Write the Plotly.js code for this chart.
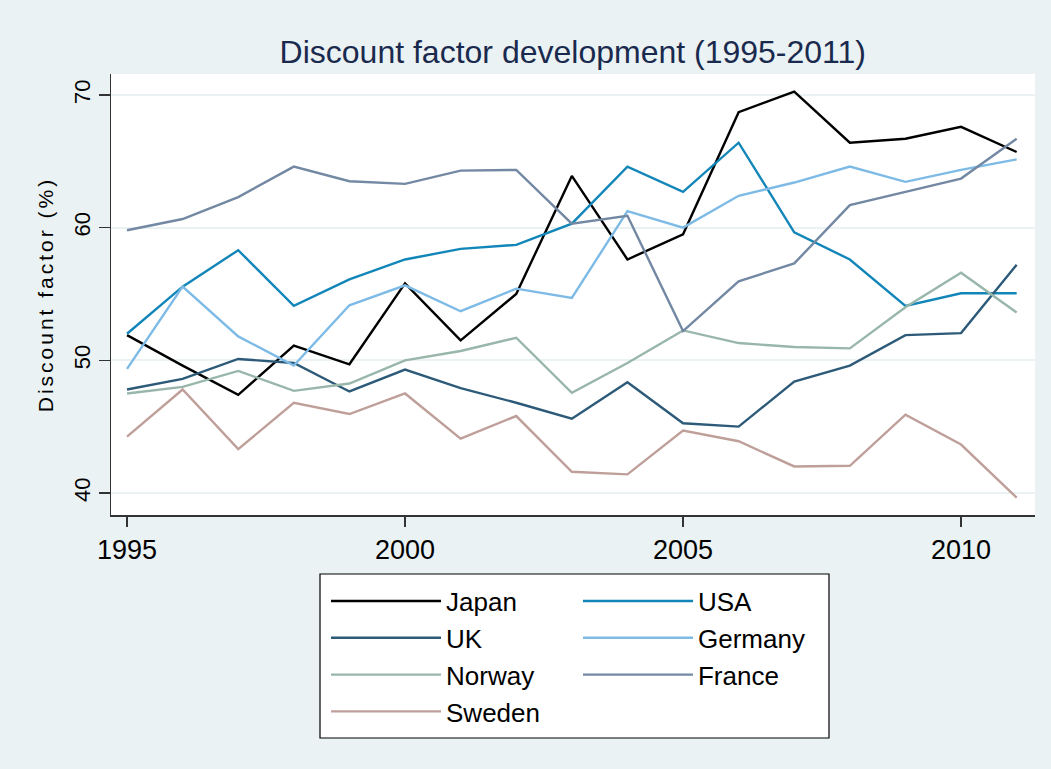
<!DOCTYPE html>
<html>
<head>
<meta charset="utf-8">
<script src="https://cdn.plot.ly/plotly-3.0.1.min.js"></script>
<style>html,body{margin:0;padding:0;background:#eaf2f3;}#chart{width:1051px;height:769px;}</style>
</head>
<body>
<div id="chart"></div>
<script>
const years = [1995,1996,1997,1998,1999,2000,2001,2002,2003,2004,2005,2006,2007,2008,2009,2010,2011];
const japan   = [51.9,49.6,47.4,51.1,49.7,55.8,51.5,55.0,63.9,57.6,59.5,68.7,70.25,66.4,66.7,67.6,65.7];
const usa     = [52.0,55.55,58.3,54.1,56.1,57.6,58.4,58.7,60.3,64.6,62.7,66.4,59.65,57.6,54.1,55.05,55.05];
const uk      = [47.8,48.6,50.1,49.8,47.65,49.3,47.9,46.8,45.6,48.35,45.25,45.0,48.4,49.6,51.9,52.05,57.2];
const germany = [49.35,55.55,51.8,49.6,54.15,55.65,53.7,55.4,54.7,61.25,60.0,62.4,63.4,64.6,63.45,64.35,65.15];
const norway  = [47.5,48.0,49.2,47.7,48.25,50.0,50.7,51.7,47.55,49.8,52.25,51.3,51.0,50.9,54.0,56.6,53.6];
const france  = [59.8,60.65,62.3,64.6,63.5,63.3,64.3,64.35,60.3,60.9,52.2,55.95,57.3,61.7,62.7,63.7,66.7];
const sweden  = [44.25,47.8,43.3,46.8,45.95,47.5,44.1,45.8,41.6,41.4,44.7,43.9,42.0,42.05,45.9,43.65,39.65];
const xTicks = [1995,2000,2005,2010];
const yTicks = [40,50,60,70];

const series = [
  {name:'Japan',   y:japan,   color:'#000000', legend:'legend'},
  {name:'USA',     y:usa,     color:'#1286b9', legend:'legend2'},
  {name:'UK',      y:uk,      color:'#2c5a78', legend:'legend'},
  {name:'Germany', y:germany, color:'#7dbbe6', legend:'legend2'},
  {name:'Norway',  y:norway,  color:'#98b6a9', legend:'legend'},
  {name:'France',  y:france,  color:'#7388a3', legend:'legend2'},
  {name:'Sweden',  y:sweden,  color:'#bf9f99', legend:'legend'}
];
const traces = series.map(s => ({
  x: years, y: s.y, name: s.name, type:'scatter', mode:'lines',
  line:{color:s.color, width:2.4}, legend:s.legend
}));

const font = 'Liberation Sans, Arial, sans-serif';
const legendCommon = {
  orientation:'v', bgcolor:'rgba(0,0,0,0)', borderwidth:0,
  font:{family:font, size:26, color:'#000'}, itemwidth:110,
  tracegroupgap:0, xanchor:'left', yanchor:'top', itemclick:false
};
const layout = {
  width:1051, height:769,
  paper_bgcolor:'#eaf2f3', plot_bgcolor:'#ffffff',
  margin:{l:111, r:16, t:74, b:254},
  title:{text:'Discount factor development (1995-2011)', x:0.545, xanchor:'center', y:0.932, yanchor:'middle',
         font:{family:font, size:32, color:'#1a2a4e'}},
  xaxis:{range:[1994.712, 2011.33], tickvals:xTicks, ticktext:xTicks.map(String),
         showgrid:false, zeroline:false, showline:true, linecolor:'#333', linewidth:1.5,
         ticks:'outside', ticklen:10, tickcolor:'#333', tickwidth:1.5,
         tickfont:{family:font, size:27, color:'#000'}, fixedrange:true},
  yaxis:{range:[38.34, 71.58], tickvals:yTicks, ticktext:yTicks.map(String), tickangle:-90,
         showgrid:true, gridcolor:'#eaf2f3', gridwidth:2, zeroline:false,
         showline:true, linecolor:'#333', linewidth:1.5,
         ticks:'outside', ticklen:11, tickcolor:'#333', tickwidth:1.5,
         tickfont:{family:font, size:22, color:'#000'}, fixedrange:true,
         title:{text:'<span style="letter-spacing:3px">Discount factor (%)</span>',
                font:{family:font, size:21, color:'#000'}, standoff:10}},
  legend: Object.assign({x:0.2327, y:-0.142}, legendCommon),
  legend2: Object.assign({x:0.5054, y:-0.142}, legendCommon),
  shapes:[{type:'rect', xref:'paper', yref:'paper', x0:(320-111)/924, x1:(829-111)/924,
           y0:(515-738)/441, y1:(515-574)/441, fillcolor:'#ffffff', line:{color:'#000', width:1.2}, layer:'below'}],
  showlegend:true
};
Plotly.newPlot('chart', traces, layout, {displayModeBar:false, staticPlot:true});
</script>
</body>
</html>
